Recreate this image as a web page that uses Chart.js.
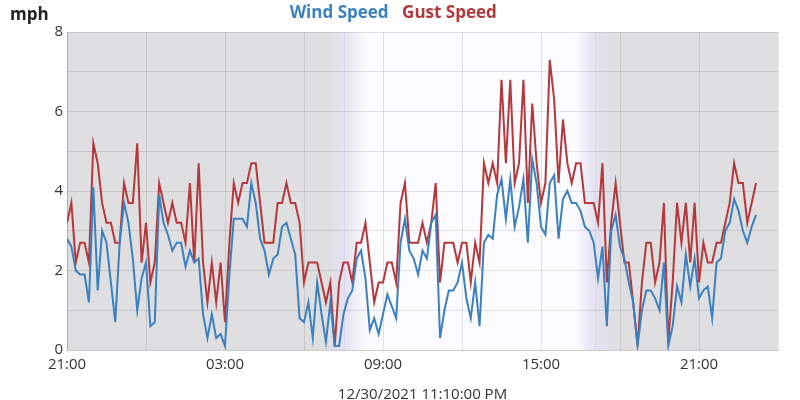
<!DOCTYPE html>
<html>
<head>
<meta charset="utf-8">
<script src="https://cdn.jsdelivr.net/npm/chart.js@4.4.1/dist/chart.umd.min.js"></script>
<style>
  html, body { margin: 0; padding: 0; background: #fff; }
  #wrap { width: 800px; height: 400px; }
</style>
</head>
<body>
<div id="wrap"><canvas id="windChart" width="800" height="400"></canvas></div>
<script>
// readings every 10 minutes, starting 12/29/2021 21:00
var stepMinutes = 10;
var axisHours = 27;
var hourLabels = ['21:00', '03:00', '09:00', '15:00', '21:00'];
var sunriseHour = 10.5;   // hours after start (07:30)
var sunsetHour = 20.05;   // (17:03)
var footerText = '12/30/2021 11:10:00 PM';

var windSpeed = [
  2.8, 2.6, 2.0, 1.9, 1.9, 1.2, 4.1, 1.5, 3.0, 2.7, 1.7, 0.7, 2.7, 3.7, 3.2, 2.3,
  1.0, 1.8, 2.2, 0.6, 0.7, 3.9, 3.2, 2.9, 2.5, 2.7, 2.7, 2.1, 2.5, 2.2, 2.3, 0.9,
  0.3, 0.9, 0.3, 0.4, 0.1, 1.9, 3.3, 3.3, 3.3, 3.1, 4.2, 3.7, 2.8, 2.5, 1.9, 2.3,
  2.4, 3.1, 3.2, 2.8, 2.4, 0.8, 0.7, 1.2, 0.3, 1.7, 0.9, 0.2, 1.2, 0.1, 0.1, 0.9,
  1.3, 1.5, 2.3, 2.5, 1.8, 0.5, 0.8, 0.4, 0.9, 1.4, 1.1, 0.8, 2.7, 3.3, 2.5, 2.3,
  1.9, 2.5, 2.3, 3.2, 3.4, 0.3, 1.0, 1.5, 1.5, 1.7, 2.2, 1.3, 0.8, 1.7, 0.6, 2.7,
  2.9, 2.8, 3.9, 4.3, 3.3, 4.3, 3.1, 3.6, 4.3, 2.7, 4.8, 4.2, 3.1, 2.9, 4.2, 4.4,
  2.8, 3.8, 4.0, 3.7, 3.7, 3.5, 3.1, 3.0, 2.7, 1.8, 2.6, 0.6, 3.0, 3.4, 2.6, 2.3,
  1.7, 1.2, 0.1, 1.0, 1.5, 1.5, 1.3, 1.0, 2.2, 0.1, 0.6, 1.6, 1.2, 2.4, 1.6, 2.3,
  1.3, 1.5, 1.6, 0.8, 2.2, 2.3, 3.0, 3.2, 3.8, 3.5, 3.0, 2.7, 3.1, 3.4
];

var gustSpeed = [
  3.2, 3.7, 2.2, 2.7, 2.7, 2.2, 5.2, 4.7, 3.7, 3.2, 3.2, 2.7, 2.7, 4.2, 3.7, 3.7,
  5.2, 2.2, 3.2, 1.7, 2.2, 4.2, 3.7, 3.2, 3.7, 3.2, 3.2, 2.7, 4.2, 2.2, 4.7, 2.2,
  1.2, 2.2, 1.2, 2.2, 0.7, 2.7, 4.2, 3.7, 4.2, 4.2, 4.7, 4.7, 3.7, 2.7, 2.7, 2.7,
  3.7, 3.7, 4.2, 3.7, 3.7, 3.2, 1.7, 2.2, 2.2, 2.2, 1.7, 1.2, 1.7, 0.1, 1.7, 2.2,
  2.2, 1.7, 2.7, 2.7, 3.2, 2.2, 1.2, 1.7, 1.7, 2.2, 2.2, 1.7, 3.7, 4.2, 2.7, 2.7,
  2.7, 3.2, 2.7, 3.2, 4.2, 1.7, 2.7, 2.7, 2.7, 2.2, 2.7, 2.7, 1.7, 2.7, 2.2, 4.7,
  4.2, 4.7, 4.2, 6.8, 4.7, 6.8, 4.2, 4.7, 6.8, 3.7, 6.2, 4.7, 3.7, 4.2, 7.3, 6.3,
  4.2, 5.8, 4.7, 4.2, 4.7, 4.7, 3.7, 3.7, 3.7, 3.2, 4.7, 1.7, 3.2, 4.2, 3.2, 2.2,
  2.2, 1.2, 0.1, 1.7, 2.7, 2.7, 1.7, 2.2, 3.7, 0.2, 1.7, 3.7, 2.7, 3.7, 2.2, 3.7,
  1.7, 2.7, 2.2, 2.2, 2.7, 2.7, 3.2, 3.7, 4.7, 4.2, 4.2, 3.2, 3.7, 4.2
];

function toPoints(values) {
  return values.map(function(v, i) {
    return { x: i * stepMinutes / 60, y: v };
  });
}

var fontFamily = "'Open Sans', 'Noto Sans', sans-serif";

// grey night background with a light day band between sunrise and sunset
var dayBand = {
  id: 'dayBand',
  beforeDraw: function(chart) {
    var a = chart.chartArea, xs = chart.scales.x, ctx = chart.ctx;
    var w = a.right - a.left;
    var pos = function(h) {
      return Math.min(1, Math.max(0, (xs.getPixelForValue(h) - a.left) / w));
    };
    var night = '#dfdfe1', dusk = '#e4e1f0', day = '#fcfbff';
    var g = ctx.createLinearGradient(a.left, 0, a.right, 0);
    g.addColorStop(0, night);
    g.addColorStop(pos(sunriseHour - 0.65), night);
    g.addColorStop(pos(sunriseHour), dusk);
    g.addColorStop(pos(sunriseHour + 0.9), day);
    g.addColorStop(pos(sunsetHour - 0.75), day);
    g.addColorStop(pos(sunsetHour), dusk);
    g.addColorStop(pos(sunsetHour + 0.9), night);
    g.addColorStop(1, night);
    ctx.save();
    ctx.fillStyle = g;
    ctx.fillRect(a.left, a.top, w, a.bottom - a.top);
    ctx.strokeStyle = 'rgba(214,210,232,0.7)';
    ctx.lineWidth = 1;
    [sunriseHour, sunsetHour].forEach(function(h) {
      var px = Math.round(xs.getPixelForValue(h)) + 0.5;
      ctx.beginPath();
      ctx.moveTo(px, a.top);
      ctx.lineTo(px, a.bottom);
      ctx.stroke();
    });
    ctx.restore();
  },
  afterDraw: function(chart) {
    var ctx = chart.ctx;
    ctx.save();
    ctx.font = 'bold 17px ' + fontFamily;
    ctx.fillStyle = '#222';
    ctx.textBaseline = 'middle';
    ctx.fillText('mph', 10, 15);
    ctx.restore();
  }
};

var ctx = document.getElementById('windChart').getContext('2d');
var chart = new Chart(ctx, {
  type: 'line',
  data: {
    datasets: [{
      label: 'Wind Speed',
      data: toPoints(windSpeed),
      borderColor: '#3b80bf',
      borderWidth: 2,
      pointRadius: 0,
      tension: 0
    }, {
      label: 'Gust Speed',
      data: toPoints(gustSpeed),
      borderColor: '#b5383a',
      borderWidth: 2,
      pointRadius: 0,
      tension: 0
    }]
  },
  options: {
    responsive: false,
    animation: false,
    devicePixelRatio: 1,
    layout: { padding: { top: 0, right: 22, left: 0, bottom: 0 } },
    plugins: {
      tooltip: { enabled: false },
      legend: {
        position: 'top',
        labels: {
          boxWidth: 0,
          padding: 5,
          font: { family: fontFamily, size: 17, weight: 'bold' },
          generateLabels: function(chart) {
            return chart.data.datasets.map(function(ds, i) {
              return {
                text: ds.label,
                fontColor: ds.borderColor,
                fillStyle: 'rgba(0,0,0,0)',
                strokeStyle: 'rgba(0,0,0,0)',
                lineWidth: 0,
                hidden: false,
                datasetIndex: i
              };
            });
          }
        }
      }
    },
    scales: {
      x: {
        type: 'linear',
        min: 0,
        max: axisHours,
        afterFit: function(scale) { scale.height = 50; },
        grid: { color: 'rgba(0,0,0,0.1)', drawTicks: false },
        border: { color: 'rgba(0,0,0,0.12)' },
        ticks: {
          stepSize: 3,
          autoSkip: false,
          maxRotation: 0,
          padding: 6,
          color: '#333',
          font: { family: fontFamily, size: 15 },
          callback: function(v) {
            return v % 6 === 0 ? hourLabels[v / 6] : '';
          }
        },
        title: {
          display: true,
          text: footerText,
          color: '#333',
          font: { family: fontFamily, size: 15 },
          padding: { top: 0, bottom: -4 }
        }
      },
      y: {
        min: 0,
        max: 8,
        afterFit: function(scale) { scale.width = 67; },
        grid: { color: 'rgba(0,0,0,0.1)', drawTicks: false },
        border: { color: 'rgba(0,0,0,0.12)' },
        ticks: {
          stepSize: 1,
          padding: 4,
          color: '#333',
          font: { family: fontFamily, size: 15 },
          callback: function(v) {
            return v % 2 === 0 ? String(v) : '';
          }
        }
      }
    }
  },
  plugins: [dayBand]
});
</script>
</body>
</html>
